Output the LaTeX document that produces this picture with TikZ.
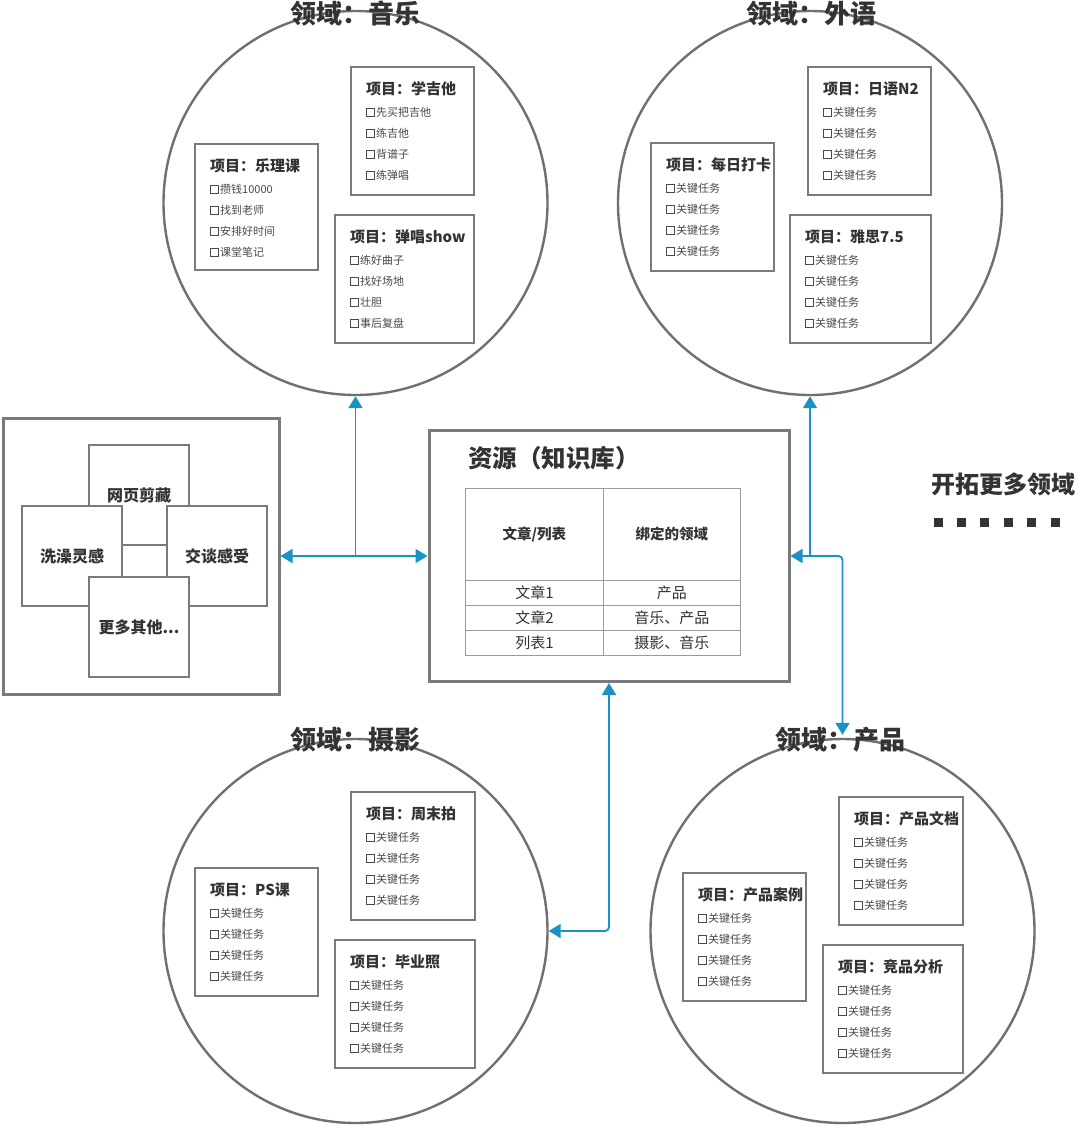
\documentclass[tikz,border=0pt]{standalone}
\usepackage{fontspec}
\setmainfont{Noto Sans CJK SC}
\usetikzlibrary{arrows.meta}

\definecolor{ink}{HTML}{333333}
\definecolor{itemink}{HTML}{4A4A4A}
\definecolor{rimgray}{HTML}{707070}
\definecolor{boxgray}{HTML}{7A7A7A}
\definecolor{gridgray}{HTML}{9A9A9A}
\definecolor{linkblue}{HTML}{1A93C4}

\tikzset{
  domcircle/.style={circle, draw=rimgray, line width=2.4pt, minimum size=384pt, inner sep=0pt},
  domtitle/.style={font=\fontsize{26}{26}\selectfont\bfseries, text=ink, inner sep=0pt},
  projframe/.style={draw=boxgray, line width=1.5pt, fill=white, inner sep=0pt, anchor=north west},
  projtitle/.style={font=\fontsize{15}{15}\selectfont\bfseries, text=ink, anchor=west, inner sep=0pt},
  tasktext/.style={font=\fontsize{11}{11}\selectfont, text=itemink, anchor=west, inner sep=0pt},
  checkbox/.style={draw=itemink, line width=0.7pt, minimum size=8.5pt, inner sep=0pt},
  holder/.style={draw=boxgray, line width=3pt, fill=white, inner sep=0pt},
  tile/.style={draw=boxgray, line width=1.4pt, fill=white, minimum size=100pt, inner sep=0pt,
    font=\fontsize{16}{16}\selectfont\bfseries, text=ink},
  gridcell/.style={draw=gridgray, line width=0.9pt, anchor=north west, inner sep=0pt, text=ink,
    font=\fontsize{15}{15}\selectfont},
  headcell/.style={gridcell, font=\fontsize{14.5}{14.5}\selectfont\bfseries},
  link/.style={draw=linkblue, line width=1.8pt, rounded corners=4pt},
  >={Triangle[width=14pt,length=12pt]}
}

% project card: name, x1, y1, x2, y2, title, tasks
\newcommand\projcard[7]{%
  \node[projframe, minimum width={(#4-#2)*1pt}, minimum height={(#5-#3)*1pt}] (#1) at (#2,#3) {};
  \node[projtitle] (#1-title) at (#2+16,#3+22.5) {#6};
  \foreach \t [count=\k from 0] in {#7} {
    \node[checkbox] (#1-box\k) at (#2+20.5,#3+46.5+21*\k) {};
    \node[tasktext] (#1-task\k) at (#2+26,#3+46+21*\k) {\t};
  }
}

\begin{document}
\begin{tikzpicture}[x=1pt, y=-1pt]
  \useasboundingbox[fill=white] (0,0) rectangle (1080,1125);

  % domain circles
  \node[domcircle] (music)   at (355.5,203) {};
  \node[domcircle] (foreign) at (810,203) {};
  \node[domcircle] (photo)   at (355.5,931) {};
  \node[domcircle] (product) at (842.5,931) {};

  \node[domtitle] (music-label)   at (355,14)  {领域：音乐};
  \node[domtitle] (foreign-label) at (811,14)  {领域：外语};
  \node[domtitle] (photo-label)   at (355,740) {领域：摄影};
  \node[domtitle] (product-label) at (840,740) {领域：产品};

  % music projects
  \projcard{theory}{194}{143}{317}{269}{项目：乐理课}{攒钱10000,找到老师,安排好时间,课堂笔记}
  \projcard{guitar}{350}{66}{473}{194}{项目：学吉他}{先买把吉他,练吉他,背谱子,练弹唱}
  \projcard{show}{334}{214}{473}{342}{项目：弹唱show}{练好曲子,找好场地,壮胆,事后复盘}

  % language projects
  \projcard{daily}{650}{142}{773}{270}{项目：每日打卡}{关键任务,关键任务,关键任务,关键任务}
  \projcard{jlpt}{807}{66}{930}{194}{项目：日语N2}{关键任务,关键任务,关键任务,关键任务}
  \projcard{ielts}{789}{214}{930}{342}{项目：雅思7.5}{关键任务,关键任务,关键任务,关键任务}

  % photography projects
  \projcard{ps}{194}{867}{317}{995}{项目：PS课}{关键任务,关键任务,关键任务,关键任务}
  \projcard{weekend}{350}{791}{474}{919}{项目：周末拍}{关键任务,关键任务,关键任务,关键任务}
  \projcard{grad}{334}{939}{474}{1067}{项目：毕业照}{关键任务,关键任务,关键任务,关键任务}

  % product projects
  \projcard{cases}{682}{872}{805}{1000}{项目：产品案例}{关键任务,关键任务,关键任务,关键任务}
  \projcard{docs}{838}{796}{962}{924}{项目：产品文档}{关键任务,关键任务,关键任务,关键任务}
  \projcard{compete}{822}{944}{962}{1072}{项目：竞品分析}{关键任务,关键任务,关键任务,关键任务}

  % inbox of captured material
  \node[holder, minimum size=276pt] (inbox) at (141,556) {};
  \node[tile] (clip)  at (139,495) {网页剪藏};
  \node[tile] (bath)  at (72,556)  {洗澡灵感};
  \node[tile] (talk)  at (217,556) {交谈感受};
  \node[tile] (other) at (139,627) {更多其他...};

  % knowledge base
  \node[holder, minimum width=360pt, minimum height=251pt] (res) at (609,556) {};
  \node[font=\fontsize{24.5}{24.5}\selectfont\bfseries, text=ink, anchor=west, inner sep=0pt]
    (res-title) at (468,458) {资源（知识库）};
  \node[headcell, minimum width=138pt, minimum height=92pt] (h1) at (465,488) {文章/列表};
  \node[headcell, minimum width=137pt, minimum height=92pt] (h2) at (603,488) {绑定的领域};
  \node[gridcell, minimum width=138pt, minimum height=25pt] (r1a) at (465,580) {文章1};
  \node[gridcell, minimum width=137pt, minimum height=25pt] (r1b) at (603,580) {产品};
  \node[gridcell, minimum width=138pt, minimum height=25pt] (r2a) at (465,605) {文章2};
  \node[gridcell, minimum width=137pt, minimum height=25pt] (r2b) at (603,605) {音乐、产品};
  \node[gridcell, minimum width=138pt, minimum height=25pt] (r3a) at (465,630) {列表1};
  \node[gridcell, minimum width=137pt, minimum height=25pt] (r3b) at (603,630) {摄影、音乐};

  % further domains
  \node[font=\fontsize{24}{24}\selectfont\bfseries, text=ink, inner sep=0pt] (more) at (1003,484) {开拓更多领域};
  \foreach \k in {0,...,5}
    \node[fill=ink, minimum size=9pt, inner sep=0pt] (dot\k) at (938+23.4*\k,522) {};

  % connectors
  \draw[link, <->] (inbox.east) -- (res.west);
  \draw[link, ->] (music.south |- res.west) -- (music.south);
  \draw[link, ->] (foreign.south |- res.east) -- (foreign.south);
  \draw[link, <->] (res.east) -| ([yshift=3pt]product.north);
  \draw[link, <->] (res.south) |- (photo.east);
\end{tikzpicture}
\end{document}
